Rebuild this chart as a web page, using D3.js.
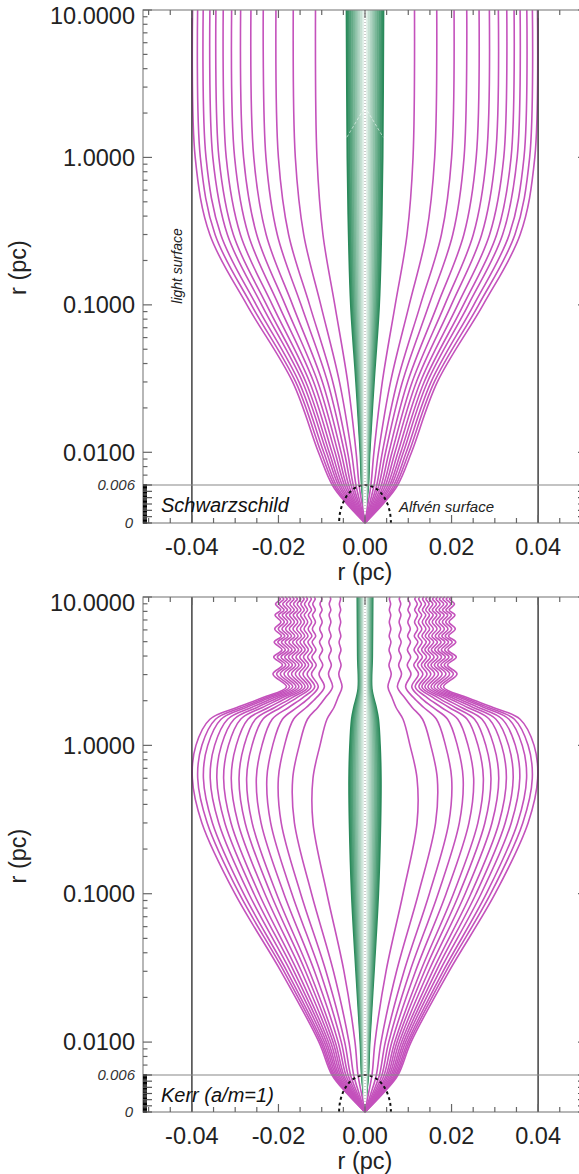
<!DOCTYPE html>
<html>
<head>
<meta charset="utf-8">
<script src="https://cdn.jsdelivr.net/npm/d3@7"></script>
<style>
  body { margin: 0; background: #fff; }
  svg { display: block; }
</style>
</head>
<body>
<svg id="chart"></svg>
<script>
// ---- data (x in units of 1e-3 pc, z in pc) ----
const xTicks = [-0.04, -0.02, 0, 0.02, 0.04];
const yTicks = [0.01, 0.1, 1, 10];
const insetTicks = [0, 0.006];
const lightSurface = 0.04;

// Schwarzschild: field line positions at each height
const schwZ = [0, 0.003, 0.006, 0.01, 0.03, 0.1, 0.3, 1, 10];
const schwLines = [
  [0, 0.69, 1.37, 2.06, 4.00, 6.98, 9.72, 11.10, 11.44],
  [0, 1.06, 2.09, 3.11, 5.90, 10.22, 14.16, 16.10, 16.58],
  [0, 1.39, 2.71, 4.01, 7.44, 12.81, 17.66, 20.01, 20.58],
  [0, 1.68, 3.23, 4.76, 8.64, 14.78, 20.28, 22.89, 23.51],
  [0, 1.98, 3.78, 5.54, 9.84, 16.74, 22.85, 25.70, 26.36],
  [0, 2.26, 4.29, 6.25, 10.90, 18.43, 25.03, 28.06, 28.74],
  [0, 2.54, 4.78, 6.93, 11.87, 19.96, 26.97, 30.13, 30.82],
  [0, 2.83, 5.27, 7.62, 12.80, 21.42, 28.80, 32.07, 32.76],
  [0, 3.10, 5.74, 8.27, 13.67, 22.74, 30.43, 33.76, 34.45],
  [0, 3.36, 6.18, 8.87, 14.43, 23.88, 31.81, 35.17, 35.84],
  [0, 3.65, 6.67, 9.53, 15.27, 25.14, 33.34, 36.74, 37.39],
  [0, 3.92, 7.12, 10.15, 16.02, 26.26, 34.65, 38.05, 38.68],
  [0, 4.18, 7.57, 10.76, 16.73, 27.29, 35.86, 39.24, 39.84]
];
const schwGreen = [0, 0.3, 0.7, 1.0, 2.0, 3.2, 3.7, 4.0, 4.2];
// faint white chevron across the green jet
const chevronX = [-4.2, 0, 4.2];
const chevronZ = [1.37, 2.2, 1.37];

// Kerr: lower part of each field line
const kerrZ = [0, 0.003, 0.006, 0.01, 0.03, 0.1, 0.3, 0.6, 1, 1.5, 1.8, 2.1];
const kerrLines = [
  [0, 0.81, 1.62, 2.31, 4.86, 8.79, 12.02, 12.02, 10.40, 8.79, 7.17, 6.24],
  [0, 1.37, 2.62, 3.70, 7.29, 12.34, 16.31, 16.70, 15.19, 13.30, 10.91, 9.14],
  [0, 1.77, 3.34, 4.69, 9.02, 14.87, 19.36, 20.02, 18.60, 16.52, 13.58, 11.20],
  [0, 2.09, 3.91, 5.48, 10.40, 16.89, 21.80, 22.68, 21.33, 19.09, 15.71, 12.85],
  [0, 2.38, 4.43, 6.21, 11.67, 18.74, 24.02, 25.11, 23.81, 21.45, 17.66, 14.36],
  [0, 2.65, 4.91, 6.87, 12.84, 20.44, 26.08, 27.35, 26.11, 23.61, 19.46, 15.74],
  [0, 2.86, 5.29, 7.40, 13.75, 21.78, 27.70, 29.11, 27.92, 25.32, 20.87, 16.84],
  [0, 3.07, 5.68, 7.93, 14.69, 23.14, 29.34, 30.91, 29.76, 27.05, 22.31, 17.95],
  [0, 3.28, 6.06, 8.45, 15.60, 24.48, 30.96, 32.67, 31.56, 28.74, 23.72, 19.04],
  [0, 3.47, 6.39, 8.92, 16.42, 25.66, 32.39, 34.24, 33.18, 30.26, 24.97, 20.01],
  [0, 3.66, 6.72, 9.38, 17.22, 26.84, 33.80, 35.77, 34.75, 31.74, 26.22, 20.97],
  [0, 3.84, 7.06, 9.84, 18.04, 28.04, 35.26, 37.34, 36.34, 33.27, 27.47, 21.94],
  [0, 4.00, 7.34, 10.24, 18.72, 29.04, 36.46, 38.66, 37.69, 34.54, 28.51, 22.75],
  [0, 4.16, 7.63, 10.64, 19.42, 30.06, 37.69, 39.90, 39.07, 35.84, 29.59, 23.58]
];
// Kerr: upper, oscillating part (centre and amplitude of each line)
const kerrCentre = [5.78, 8.09, 10.17, 11.79, 12.72, 13.64, 14.45, 15.26, 16.07, 16.88, 17.69, 18.50, 19.31, 20.11];
const kerrAmp = [0.28, 0.35, 0.46, 0.58, 0.65, 0.69, 0.76, 0.83, 0.90, 0.95, 1.02, 1.06, 1.11, 1.16];
const waveZ = [2.48, 3.03, 3.48, 3.94, 4.40, 4.97, 5.46, 6.09, 6.79, 7.56, 8.17, 8.97, 9.70];
const waveSign = [-1, 1, -1, 1, -1, 1, -1, 1, -1, 1, -1, 1, -1];
const waveAmp = [1.7, 1.0, 0.9, 0.85, 0.8, 0.75, 0.7, 0.65, 0.6, 0.6, 0.55, 0.5, 0.5];
const kerrGreenZ = [0, 0.003, 0.006, 0.01, 0.03, 0.1, 0.3, 0.6, 1, 1.5, 1.8, 2.4, 4, 10];
const kerrGreen = [0, 0.3, 0.7, 1.0, 2.0, 3.0, 3.5, 3.6, 3.4, 3.0, 2.5, 1.5, 1.6, 1.7];

// green lines: share of the outer green line
const greenShares = [1, 0.9, 0.8, 0.7, 0.6, 0.5, 0.4, 0.3, 0.2, 0.1];

// Alfven surface
const alfvenX = [6.0, 5.8, 5.2, 4.2, 3.0, 1.5, 0];
const alfvenZ = [0, 0.0015, 0.003, 0.0043, 0.0052, 0.0058, 0.006];

// ---- layout ----
const width = 579, height = 1174;
const left = 143, right = 587;
const font = "'Liberation Sans', Arial, Helvetica, sans-serif";
const magenta = '#c452bc';

const svg = d3.select('#chart').attr('width', width).attr('height', height);

const x = d3.scaleLinear().domain([-0.0513, 0.0513]).range([left, right]);
const fmtX = v => d3.format('.2f')(v).replace('\u2212', '-');

const panels = [
  { label: 'Schwarzschild', top: 10, logBottom: 485, bottom: 523, kerr: false },
  { label: 'Kerr (a/m=1)', top: 597, logBottom: 1075, bottom: 1112, kerr: true }
];

function drawPanel(p) {
  const g = svg.append('g');
  const yLog = d3.scaleLog().domain([0.006, 10]).range([p.logBottom, p.top]);
  const yLin = d3.scaleLinear().domain([0, 0.006]).range([p.bottom, p.logBottom]);
  const y = z => z >= 0.006 ? yLog(z) : yLin(z);

  const line = d3.line()
    .x(d => x(d[0] / 1000))
    .y(d => y(d[1]))
    .curve(d3.curveCatmullRom.alpha(0.5));
  const both = pts => [pts, pts.map(d => [-d[0], d[1]])];

  // green lines
  const gz = p.kerr ? kerrGreenZ : schwZ;
  const gx = p.kerr ? kerrGreen : schwGreen;
  const greenColor = d3.interpolateRgb('#2a8a5b', '#eef7f2');
  greenShares.forEach((s, k) => {
    const pts = gz.map((z, j) => [gx[j] * s, z]);
    both(pts).forEach(pp => {
      g.append('path')
        .attr('d', line(pp))
        .attr('fill', 'none')
        .attr('stroke', greenColor(k / greenShares.length))
        .attr('stroke-width', 2.4);
    });
  });
  // dotted centre line
  g.append('line')
    .attr('x1', x(0)).attr('x2', x(0))
    .attr('y1', y(10)).attr('y2', y(0))
    .attr('stroke', '#fff').attr('stroke-width', 2.5);
  g.append('line')
    .attr('x1', x(0)).attr('x2', x(0))
    .attr('y1', y(10)).attr('y2', y(0))
    .attr('stroke', '#9a9a9a').attr('stroke-width', 1)
    .attr('stroke-dasharray', '1,2');
  if (!p.kerr) {
    g.append('path')
      .attr('d', d3.line().x(d => x(d[0] / 1000)).y(d => y(d[1]))(chevronX.map((v, j) => [v, chevronZ[j]])))
      .attr('fill', 'none')
      .attr('stroke', '#fff').attr('stroke-opacity', 0.55)
      .attr('stroke-width', 1)
      .attr('stroke-dasharray', '3,2');
  }

  // magenta field lines
  const lines = [];
  if (!p.kerr) {
    schwLines.forEach(row => lines.push(schwZ.map((z, j) => [row[j], z])));
  } else {
    kerrLines.forEach((row, i) => {
      const pts = kerrZ.map((z, j) => [row[j], z]);
      waveZ.forEach((z, k) => pts.push([kerrCentre[i] + waveSign[k] * kerrAmp[i] * waveAmp[k], z]));
      pts.push([kerrCentre[i], 10]);
      lines.push(pts);
    });
  }
  lines.forEach(pts => {
    both(pts).forEach(pp => {
      g.append('path')
        .attr('d', line(pp))
        .attr('fill', 'none')
        .attr('stroke', magenta)
        .attr('stroke-width', 1.6);
    });
  });

  // light surface
  [-lightSurface, lightSurface].forEach(v => {
    g.append('line')
      .attr('x1', x(v)).attr('x2', x(v))
      .attr('y1', p.top).attr('y2', p.bottom)
      .attr('stroke', '#333').attr('stroke-width', 1.4);
  });

  // Alfven surface
  const alf = alfvenX.map((v, j) => [v, alfvenZ[j]])
    .concat(alfvenX.slice(0, -1).reverse().map((v, j) => [-v, alfvenZ[alfvenZ.length - 2 - j]]));
  g.append('path')
    .attr('d', d3.line().x(d => x(d[0] / 1000)).y(d => y(d[1])).curve(d3.curveCatmullRom)(alf))
    .attr('fill', 'none')
    .attr('stroke', '#111')
    .attr('stroke-width', 2)
    .attr('stroke-dasharray', '3,3');

  // frame
  const ax = svg.append('g');
  ax.append('rect')
    .attr('x', left).attr('y', p.top)
    .attr('width', right - left).attr('height', p.bottom - p.top)
    .attr('fill', 'none').attr('stroke', '#888').attr('stroke-width', 1.2);
  ax.append('line')
    .attr('x1', left).attr('x2', right)
    .attr('y1', p.logBottom).attr('y2', p.logBottom)
    .attr('stroke', '#888').attr('stroke-width', 1.2);

  // x ticks
  const xMinor = d3.range(-50, 51, 5).map(v => v / 1000);
  xMinor.forEach(v => {
    const major = Math.abs(Math.round(v * 1000) % 20) === 0;
    const len = major ? 8 : 5;
    ax.append('line').attr('x1', x(v)).attr('x2', x(v))
      .attr('y1', p.top).attr('y2', p.top + len)
      .attr('stroke', '#666').attr('stroke-width', 1.2);
    ax.append('line').attr('x1', x(v)).attr('x2', x(v))
      .attr('y1', p.bottom).attr('y2', p.bottom - len)
      .attr('stroke', '#666').attr('stroke-width', 1.2);
  });
  ax.selectAll('.xl')
    .data(xTicks).enter().append('text')
    .attr('x', d => x(d)).attr('y', p.bottom + 24)
    .attr('dy', '0.35em')
    .attr('text-anchor', 'middle')
    .style('font-family', font).style('font-size', '23.5px').style('fill', '#222')
    .text(fmtX);
  ax.append('text')
    .attr('x', x(0)).attr('y', p.bottom + 49)
    .attr('dy', '0.35em').attr('text-anchor', 'middle')
    .style('font-family', font).style('font-size', '23.5px').style('fill', '#222')
    .text('r (pc)');

  // y ticks (log part)
  const minor = [];
  [0.001, 0.01, 0.1, 1].forEach(dec => {
    for (let m = 2; m <= 9; m++) {
      const v = dec * m;
      if (v > 0.006 && v < 10) minor.push(v);
    }
  });
  [[left, 1], [right, -1]].forEach(([ex, dir]) => {
    minor.forEach(v => {
      ax.append('line').attr('x1', ex).attr('x2', ex + dir * 4.5)
        .attr('y1', yLog(v)).attr('y2', yLog(v))
        .attr('stroke', '#666').attr('stroke-width', 1.2);
    });
    yTicks.forEach(v => {
      ax.append('line').attr('x1', ex).attr('x2', ex + dir * 9)
        .attr('y1', yLog(v)).attr('y2', yLog(v))
        .attr('stroke', '#666').attr('stroke-width', 1.2);
    });
    // inset (linear) ticks
    d3.range(0, 0.00601, 0.0002).forEach(v => {
      ax.append('line').attr('x1', ex).attr('x2', ex + dir * 4)
        .attr('y1', yLin(v)).attr('y2', yLin(v))
        .attr('stroke', '#000').attr('stroke-width', 1.2);
    });
    d3.range(0, 0.00601, 0.001).forEach(v => {
      ax.append('line').attr('x1', ex).attr('x2', ex + dir * 9)
        .attr('y1', yLin(v)).attr('y2', yLin(v))
        .attr('stroke', '#555').attr('stroke-width', 1.2);
    });
  });
  ax.selectAll('.yl')
    .data(yTicks).enter().append('text')
    .attr('x', 135)
    .attr('y', d => Math.max(yLog(d), p.top + 6))
    .attr('dy', '0.35em')
    .attr('text-anchor', 'end')
    .style('font-family', font).style('font-size', '23.5px').style('fill', '#222')
    .text(d => d3.format('.4f')(d));
  ax.selectAll('.il')
    .data(insetTicks).enter().append('text')
    .attr('x', d => d === 0 ? 133 : 135)
    .attr('y', d => yLin(d))
    .attr('dy', '0.35em')
    .attr('text-anchor', 'end')
    .style('font-family', font).style('font-size', '15px')
    .style('font-style', 'italic').style('fill', '#333')
    .text(d => d === 0 ? '0' : '0.006');
  ax.append('text')
    .attr('transform', `translate(18, ${(p.top + p.logBottom) / 2 + 20}) rotate(-90)`)
    .attr('dy', '0.35em').attr('text-anchor', 'middle')
    .style('font-family', font).style('font-size', '23.5px').style('fill', '#222')
    .text('r (pc)');

  // panel label
  ax.append('text')
    .attr('x', 161).attr('y', (p.logBottom + p.bottom) / 2 + 1)
    .attr('dy', '0.35em')
    .style('font-family', font).style('font-size', '20px')
    .style('font-style', 'italic').style('fill', '#111')
    .text(p.label);

  if (!p.kerr) {
    ax.append('text')
      .attr('x', 399).attr('y', (p.logBottom + p.bottom) / 2 + 3)
      .attr('dy', '0.35em')
      .style('font-family', font).style('font-size', '15px')
      .style('font-style', 'italic').style('fill', '#222')
      .text('Alfvén surface');
    ax.append('text')
      .attr('transform', `translate(177, 266) rotate(-90)`)
      .attr('dy', '0.35em').attr('text-anchor', 'middle')
      .style('font-family', font).style('font-size', '14px')
      .style('font-style', 'italic').style('fill', '#222')
      .text('light surface');
  }
}

panels.forEach(drawPanel);
</script>
</body>
</html>
